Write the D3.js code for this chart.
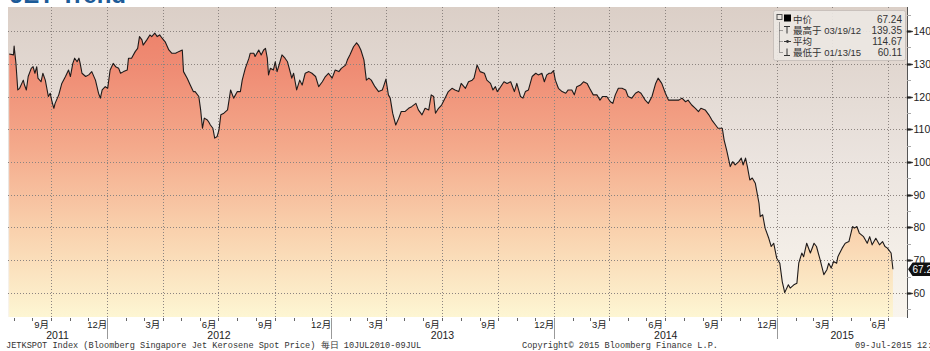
<!DOCTYPE html>
<html><head><meta charset="utf-8">
<script src="https://cdn.jsdelivr.net/npm/d3@7"></script>
<style>body{margin:0;background:#fff;overflow:hidden}svg{display:block}</style>
</head><body><svg id="c" width="930" height="351"></svg>
<script>
const dates = ["2011-07-25","2011-08-01","2011-08-02","2011-08-05","2011-08-08","2011-08-11","2011-08-17","2011-08-19","2011-08-22","2011-08-25","2011-08-30","2011-09-02","2011-09-05","2011-09-08","2011-09-10","2011-09-15","2011-09-18","2011-09-22","2011-09-27","2011-09-30","2011-10-03","2011-10-06","2011-10-08","2011-10-14","2011-10-19","2011-10-25","2011-10-30","2011-11-02","2011-11-06","2011-11-09","2011-11-13","2011-11-16","2011-11-18","2011-11-21","2011-11-27","2011-12-02","2011-12-07","2011-12-13","2011-12-18","2011-12-21","2011-12-24","2011-12-29","2012-01-02","2012-01-06","2012-01-11","2012-01-15","2012-01-20","2012-01-23","2012-01-28","2012-02-03","2012-02-05","2012-02-10","2012-02-16","2012-02-20","2012-02-23","2012-02-27","2012-02-29","2012-03-06","2012-03-11","2012-03-14","2012-03-19","2012-03-23","2012-03-27","2012-03-31","2012-04-05","2012-04-11","2012-04-16","2012-04-22","2012-04-27","2012-05-03","2012-05-05","2012-05-11","2012-05-16","2012-05-21","2012-05-24","2012-05-30","2012-06-02","2012-06-05","2012-06-08","2012-06-13","2012-06-15","2012-06-18","2012-06-22","2012-06-25","2012-06-29","2012-07-02","2012-07-05","2012-07-10","2012-07-16","2012-07-21","2012-07-26","2012-08-01","2012-08-06","2012-08-09","2012-08-14","2012-08-20","2012-08-22","2012-08-28","2012-08-30","2012-09-05","2012-09-09","2012-09-13","2012-09-16","2012-09-19","2012-09-21","2012-09-24","2012-09-29","2012-10-02","2012-10-05","2012-10-09","2012-10-13","2012-10-18","2012-10-22","2012-10-27","2012-10-29","2012-11-01","2012-11-06","2012-11-11","2012-11-15","2012-11-20","2012-11-26","2012-12-01","2012-12-07","2012-12-12","2012-12-18","2012-12-23","2012-12-28","2013-01-03","2013-01-08","2013-01-14","2013-01-18","2013-01-25","2013-01-28","2013-02-01","2013-02-07","2013-02-12","2013-02-15","2013-02-19","2013-02-24","2013-02-28","2013-03-04","2013-03-08","2013-03-14","2013-03-20","2013-03-26","2013-03-28","2013-04-01","2013-04-05","2013-04-08","2013-04-12","2013-04-17","2013-04-22","2013-04-26","2013-05-02","2013-05-08","2013-05-13","2013-05-20","2013-05-24","2013-05-30","2013-06-04","2013-06-10","2013-06-14","2013-06-18","2013-06-21","2013-06-26","2013-07-01","2013-07-08","2013-07-12","2013-07-18","2013-07-23","2013-07-29","2013-08-02","2013-08-09","2013-08-14","2013-08-20","2013-08-23","2013-08-28","2013-09-02","2013-09-09","2013-09-13","2013-09-19","2013-09-23","2013-09-27","2013-09-30","2013-10-04","2013-10-11","2013-10-16","2013-10-22","2013-10-28","2013-11-01","2013-11-07","2013-11-11","2013-11-15","2013-11-20","2013-11-26","2013-12-02","2013-12-06","2013-12-12","2013-12-16","2013-12-20","2013-12-24","2013-12-27","2013-12-31","2014-01-03","2014-01-08","2014-01-14","2014-01-20","2014-01-24","2014-01-30","2014-02-03","2014-02-07","2014-02-13","2014-02-18","2014-02-24","2014-02-28","2014-03-06","2014-03-12","2014-03-17","2014-03-21","2014-03-28","2014-04-03","2014-04-07","2014-04-11","2014-04-16","2014-04-22","2014-04-28","2014-05-02","2014-05-08","2014-05-14","2014-05-19","2014-05-23","2014-05-30","2014-06-04","2014-06-10","2014-06-16","2014-06-20","2014-06-26","2014-07-02","2014-07-07","2014-07-14","2014-07-18","2014-07-24","2014-07-29","2014-08-04","2014-08-08","2014-08-14","2014-08-20","2014-08-25","2014-08-29","2014-09-05","2014-09-11","2014-09-16","2014-09-22","2014-09-26","2014-10-03","2014-10-06","2014-10-10","2014-10-16","2014-10-20","2014-10-24","2014-10-30","2014-11-03","2014-11-06","2014-11-10","2014-11-13","2014-11-17","2014-11-21","2014-11-26","2014-12-02","2014-12-04","2014-12-08","2014-12-12","2014-12-18","2014-12-22","2014-12-26","2014-12-31","2015-01-05","2015-01-09","2015-01-12","2015-01-13","2015-01-19","2015-01-22","2015-01-28","2015-02-02","2015-02-05","2015-02-10","2015-02-13","2015-02-18","2015-02-24","2015-03-02","2015-03-06","2015-03-12","2015-03-18","2015-03-23","2015-03-26","2015-03-30","2015-04-03","2015-04-08","2015-04-10","2015-04-17","2015-04-22","2015-04-28","2015-05-04","2015-05-07","2015-05-11","2015-05-15","2015-05-22","2015-05-28","2015-06-01","2015-06-05","2015-06-11","2015-06-17","2015-06-22","2015-06-26","2015-06-30","2015-07-06","2015-07-09"];
const prices = [133.0,132.7,135.4,130.1,122.0,122.5,125.0,123.5,122.0,126.1,128.6,129.1,127.1,129.1,125.6,124.5,127.1,125.0,120.0,121.0,118.4,116.4,117.9,120.5,124.0,126.1,128.1,126.1,130.1,131.7,130.6,131.7,130.1,127.1,126.1,126.6,127.6,125.0,121.0,119.5,122.0,123.0,122.5,128.1,130.1,129.1,128.6,127.1,127.6,128.1,131.7,131.7,133.7,134.7,138.3,137.3,135.7,137.3,138.8,138.3,139.35,138.3,138.8,137.8,136.7,134.2,133.2,133.2,133.7,134.2,127.6,125.6,123.5,121.5,121.5,120.0,115.9,110.3,113.4,112.8,112.3,111.3,110.3,107.3,107.8,109.8,114.4,114.9,115.9,122.0,119.5,121.5,121.5,125.0,128.6,131.7,133.2,133.2,132.2,134.2,132.7,134.2,134.7,131.7,126.6,128.6,128.1,130.6,127.6,130.1,132.7,131.7,130.6,127.1,125.6,127.1,122.0,125.0,123.5,127.1,127.6,127.1,126.1,123.0,124.5,126.1,127.1,125.6,128.1,127.6,128.6,129.6,131.2,132.7,135.2,136.4,135.7,134.2,131.2,125.0,125.6,125.0,123.0,121.5,122.0,123.0,125.3,120.5,119.5,114.9,111.3,113.4,115.4,115.4,116.4,116.9,117.9,115.9,114.4,116.4,115.9,120.5,120.0,114.9,116.4,117.4,120.0,121.5,122.5,122.0,121.5,124.0,122.5,124.5,125.0,125.6,129.6,127.6,127.1,125.0,124.0,122.0,123.0,121.5,122.5,124.5,124.0,124.5,121.5,124.0,120.0,119.5,121.5,122.0,126.1,127.1,126.6,127.1,124.5,126.6,127.1,127.1,127.9,125.0,122.5,121.5,121.0,122.0,122.0,120.5,123.0,123.5,124.5,124.0,122.5,120.5,120.5,118.9,120.0,120.0,118.4,117.9,120.5,122.5,122.5,122.0,120.0,119.5,121.0,121.5,121.0,118.9,117.9,120.0,124.0,125.6,124.0,121.0,118.9,118.9,118.9,118.9,119.5,118.4,118.9,117.4,116.4,115.4,116.4,115.9,114.4,112.8,111.3,110.3,110.3,106.7,103.7,98.6,100.1,99.1,100.1,101.2,99.1,101.2,98.6,94.5,95.1,93.5,87.4,83.3,83.9,79.8,76.7,74.2,75.2,70.6,69.1,63.5,61.0,60.11,62.5,61.5,62.5,63.0,69.1,72.2,71.1,75.2,72.2,75.2,74.2,70.1,65.6,67.1,69.1,67.6,69.6,69.1,71.1,73.7,75.2,75.7,80.3,79.8,80.3,78.3,77.2,75.2,77.2,74.7,76.7,74.7,75.7,74.2,73.7,72.2,67.24];
const yTicks = [60,70,80,90,100,110,120,130,140];
const yMinorTicks = [55,65,75,85,95,105,115,125,135,145];
const monthNames = ["1月","2月","3月","4月","5月","6月","7月","8月","9月","10月","11月","12月"];
const labelledMonths = [2,5,8,11];
const legendNames = ["中价","最高于 03/19/12","平均","最低于 01/13/15"];
const legendValues = ["67.24","139.35","114.67","60.11"];
const lastValueLabel = "67.24";
const titleText = "JET Trend";
const footerLeft = "JETKSPOT Index (Bloomberg Singapore Jet Kerosene Spot Price)  每日 10JUL2010-09JUL";
const footerMid = "Copyright\u00A9 2015 Bloomberg Finance L.P.";
const footerRight = "09-Jul-2015 12:10:15";

const parse = d3.utcParse("%Y-%m-%d");
const data = dates.map((d,i)=>({date:parse(d), v:prices[i]}));

const L=8, R=907, T=7, B=317;
const svg = d3.select("#c");
const x = d3.scaleUtc().domain([Date.UTC(2011,6,23), Date.UTC(2015,7,1)]).range([L,R]);
const y = d3.scaleLinear().domain([52.67,147.33]).range([B,T]);

const defs = svg.append("defs");
const bg = defs.append("linearGradient").attr("id","bg").attr("x1",0).attr("x2",0).attr("y1",0).attr("y2",1);
[[0,"#dbcfc7"],[0.5,"#ebe4df"],[1,"#f9f5ed"]].forEach(s=>bg.append("stop").attr("offset",s[0]).attr("stop-color",s[1]));
const ag = defs.append("linearGradient").attr("id","ag").attr("gradientUnits","userSpaceOnUse").attr("x1",0).attr("x2",0).attr("y1",T).attr("y2",B);
[[0,"#ec7d66"],[0.2,"#ef8c74"],[0.45,"#f4a98b"],[0.72,"#f9d1ad"],[1,"#fdf6d3"]].forEach(s=>ag.append("stop").attr("offset",s[0]).attr("stop-color",s[1]));
defs.append("clipPath").attr("id","clip").append("rect").attr("x",L).attr("y",T).attr("width",R-L).attr("height",B-T);

// title (clipped at top of page)
svg.append("text").attr("x",10).attr("y",3).text(titleText)
  .attr("font-family","Liberation Sans, Arial, sans-serif").attr("font-weight","bold").attr("font-size",24).attr("fill","#1d5b98");

svg.append("rect").attr("x",L).attr("y",T).attr("width",R-L).attr("height",B-T).attr("fill","url(#bg)");

const g = svg.append("g").attr("clip-path","url(#clip)");
g.append("path").datum(data).attr("fill","url(#ag)")
  .attr("d", d3.area().x(d=>x(d.date)).y0(B).y1(d=>y(d.v)));

// grid
const qTicks = d3.utcMonth.every(3).range(x.domain()[0], x.domain()[1]);
g.selectAll(".vg").data(qTicks).enter().append("line")
  .attr("x1",d=>Math.round(x(d))+0.5).attr("x2",d=>Math.round(x(d))+0.5).attr("y1",T).attr("y2",B)
  .attr("stroke","#8c8480").attr("stroke-width",1).attr("stroke-dasharray","1,2");
g.selectAll(".hg").data(yTicks).enter().append("line")
  .attr("x1",L).attr("x2",R).attr("y1",d=>Math.round(y(d))+0.5).attr("y2",d=>Math.round(y(d))+0.5)
  .attr("stroke","#8c8480").attr("stroke-width",1).attr("stroke-dasharray","1,2");

g.append("path").datum(data).attr("fill","none").attr("stroke","#1e1a1a").attr("stroke-width",1.1)
  .attr("stroke-linejoin","round")
  .attr("d", d3.line().x(d=>x(d.date)).y(d=>y(d.v)));

// right axis
svg.append("line").attr("x1",R+0.5).attr("x2",R+0.5).attr("y1",T).attr("y2",B+1).attr("stroke","#555").attr("stroke-width",1);
svg.selectAll(".ymin").data(yMinorTicks).enter().append("line")
  .attr("x1",R).attr("x2",R+4).attr("y1",d=>Math.round(y(d))+0.5).attr("y2",d=>Math.round(y(d))+0.5)
  .attr("stroke","#aaa");
const yt = svg.selectAll(".ytk").data(yTicks).enter().append("g").attr("transform",d=>`translate(${R},${Math.round(y(d))+0.5})`);
yt.append("path").attr("d","M0,-0.8L3,-0.8L6,0L3,0.8L0,0.8Z").attr("fill","#222").attr("stroke","#222").attr("stroke-width",0.6);
yt.append("text").attr("x",6.5).attr("y",3.6).text(d=>d)
  .attr("font-family","Liberation Sans, Arial, sans-serif").attr("font-size",10.5).attr("fill","#222");

// last value label
const ly = y(prices[prices.length-1]);
svg.append("path").attr("d",`M909,${ly} L913,${ly-6} L940,${ly-6} L940,${ly+6} L913,${ly+6} Z`).attr("fill","#111").attr("stroke","#111").attr("stroke-linejoin","round").attr("stroke-width",1.5);
svg.append("text").attr("x",912.5).attr("y",ly+3.6).text(lastValueLabel)
  .attr("font-family","Liberation Sans, Arial, sans-serif").attr("font-size",10).attr("fill","#fff");

// bottom axis
const months = d3.utcMonth.range(x.domain()[0], x.domain()[1]);
svg.selectAll(".mt").data(months).enter().append("line")
  .attr("x1",d=>Math.round(x(d))+0.5).attr("x2",d=>Math.round(x(d))+0.5).attr("y1",B+1).attr("y2",B+4)
  .attr("stroke","#666");
const lbl = months.filter(d=>labelledMonths.includes(d.getUTCMonth()));
svg.selectAll(".ml").data(lbl).enter().append("text")
  .attr("x",d=>x(d3.utcDay.offset(d,15))).attr("y",B+11).attr("text-anchor","middle")
  .text(d=>monthNames[d.getUTCMonth()])
  .attr("font-family","Liberation Sans, Noto Sans CJK SC, sans-serif").attr("font-size",9.5).attr("fill","#222");
const years = d3.utcYear.range(Date.UTC(2012,0,1), x.domain()[1]);
svg.selectAll(".ys").data(years).enter().append("line")
  .attr("x1",d=>Math.round(x(d))+0.5).attr("x2",d=>Math.round(x(d))+0.5).attr("y1",B+1).attr("y2",B+22)
  .attr("stroke","#999");
const yearSpans = [2011,2012,2013,2014,2015].map(yr=>{
  const a = Math.max(x(Date.UTC(yr,0,1)), L), b = Math.min(x(Date.UTC(yr+1,0,1)), R);
  return {yr, cx:(a+b)/2};
});
svg.selectAll(".yl").data(yearSpans).enter().append("text")
  .attr("x",d=>d.cx).attr("y",B+22).attr("text-anchor","middle").text(d=>d.yr)
  .attr("font-family","Liberation Sans, Arial, sans-serif").attr("font-size",10.5).attr("fill","#222");

// footer
const ff = "Liberation Mono, DejaVu Sans Mono, monospace";
svg.append("text").attr("x",6).attr("y",348).text(footerLeft).attr("font-family",ff).attr("font-size",8.6).attr("fill","#333");
svg.append("text").attr("x",522).attr("y",348).text(footerMid).attr("font-family",ff).attr("font-size",8.6).attr("fill","#333");
svg.append("text").attr("x",855).attr("y",348).text(footerRight).attr("font-family",ff).attr("font-size",8.6).attr("fill","#333");

// legend
const lg = svg.append("g");
lg.append("rect").attr("x",773.5).attr("y",10.5).attr("width",132).attr("height",50).attr("rx",2)
  .attr("fill","#ece7e3").attr("fill-opacity",0.92).attr("stroke","#c9c1bc");
const rowY = i => 19.5 + i*11;
lg.append("path").attr("d",`M779.5,${rowY(0)+3} V${rowY(3)} M779.5,${rowY(1)} H783 M779.5,${rowY(2)} H783 M779.5,${rowY(3)} H783`)
  .attr("stroke","#555").attr("fill","none").attr("stroke-dasharray","1,1");
lg.append("rect").attr("x",777).attr("y",rowY(0)-5).attr("width",5).attr("height",5).attr("fill","none").attr("stroke","#555");
lg.append("rect").attr("x",784).attr("y",rowY(0)-5).attr("width",7).attr("height",7).attr("fill","#000");
lg.append("path").attr("d",`M784,${rowY(1)-4} H790 M787,${rowY(1)-4} V${rowY(1)+3}`).attr("stroke","#333");
lg.append("path").attr("d",`M784,${rowY(2)} H791`).attr("stroke","#333");
lg.append("circle").attr("cx",787.5).attr("cy",rowY(2)).attr("r",1.4).attr("fill","#333");
lg.append("path").attr("d",`M784,${rowY(3)+3} H790 M787,${rowY(3)-4} V${rowY(3)+3}`).attr("stroke","#333");
lg.selectAll(".ln").data(legendNames).enter().append("text")
  .attr("x",793).attr("y",(d,i)=>rowY(i)+3.5).text(d=>d)
  .attr("font-family","Liberation Sans, Noto Sans CJK SC, sans-serif").attr("font-size",9.5).attr("fill","#333");
lg.selectAll(".lv").data(legendValues).enter().append("text")
  .attr("x",902).attr("y",(d,i)=>rowY(i)+3.5).attr("text-anchor","end").text(d=>d)
  .attr("font-family","Liberation Sans, Arial, sans-serif").attr("font-size",10).attr("fill","#333");
</script>
</body></html>
